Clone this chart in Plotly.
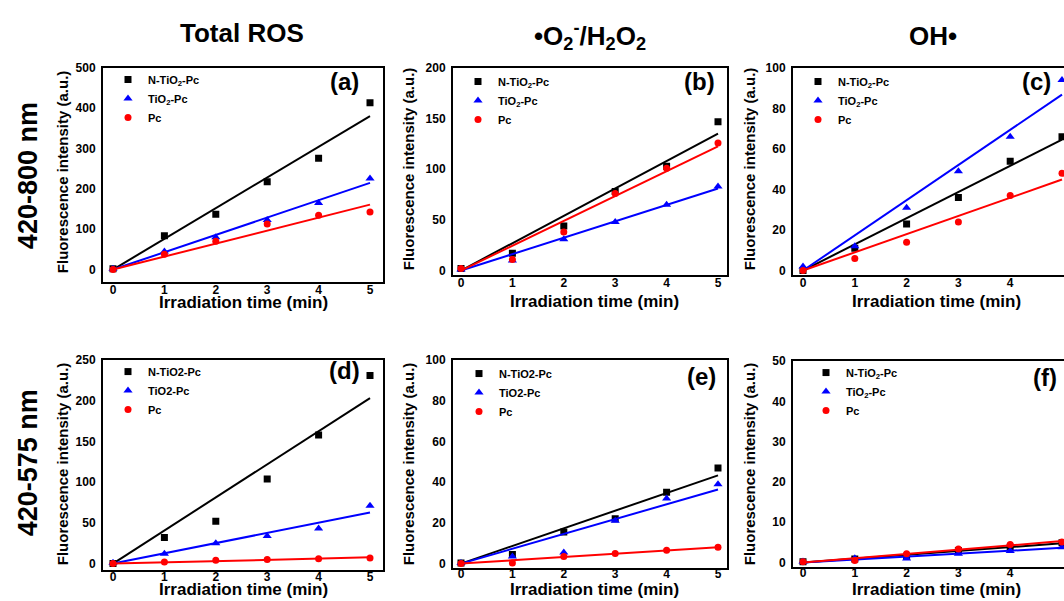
import numpy as np
import plotly.graph_objects as go

W, H = 1064, 601

# ---------------- data ----------------
time_min = [0, 1, 2, 3, 4, 5]
series_names = ["N-TiO2-Pc", "TiO2-Pc", "Pc"]

# Total ROS, 420-800 nm (a)
a_ntio2 = [2, 84, 137, 218, 276, 414]
a_tio2 = [2, 45, 80, 123, 165, 226]
a_pc = [0, 38, 70, 113, 135, 143]
# O2-/H2O2, 420-800 nm (b)
b_ntio2 = [2, 17, 44, 78, 103, 147]
b_tio2 = [1, 10, 31, 48, 65, 83]
b_pc = [2, 11, 38, 76, 101, 126]
# OH, 420-800 nm (c)
c_ntio2 = [0, 11, 23, 36, 54, 66]
c_tio2 = [2, 12, 31, 49, 66, 94]
c_pc = [0, 6, 14, 24, 37, 48]
# Total ROS, 420-575 nm (d)
d_ntio2 = [0, 32, 52, 104, 158, 231]
d_tio2 = [1, 12, 25, 34, 43, 71]
d_pc = [0, 2, 4, 5, 6, 7]
# O2-/H2O2, 420-575 nm (e)
e_ntio2 = [0.3, 4.5, 15.5, 22, 35, 47]
e_tio2 = [0.3, 3.5, 5.5, 21, 32, 39]
e_pc = [0, 0.3, 3.5, 5, 6.5, 8]
# OH, 420-575 nm (f)
f_ntio2 = [0.2, 0.9, 1.6, 3.0, 3.8, 4.9]
f_tio2 = [0.3, 1.1, 1.0, 2.2, 2.9, 3.8]
f_pc = [0.2, 0.5, 2.2, 3.4, 4.5, 5.1]

y_tick_max = [500, 200, 100, 250, 100, 50]
y_tick_step = [100, 50, 20, 50, 20, 10]
panel_letters = ["(a)", "(b)", "(c)", "(d)", "(e)", "(f)"]
column_titles = ["Total ROS", "•O<sub>2</sub><sup>-</sup>/H<sub>2</sub>O<sub>2</sub>", "OH•"]
row_titles = ["420-800 nm", "420-575 nm"]

panel_data = [
    (a_ntio2, a_tio2, a_pc),
    (b_ntio2, b_tio2, b_pc),
    (c_ntio2, c_tio2, c_pc),
    (d_ntio2, d_tio2, d_pc),
    (e_ntio2, e_tio2, e_pc),
    (f_ntio2, f_tio2, f_pc),
]

# ---------------- styling / geometry (pixels) ----------------
colors = ["#000000", "#0000ff", "#ff0000"]
symbols = ["square", "triangle-up", "circle"]
msizes = [7, 8, 7]
sub_legend = [True, True, True, False, False, True]

# (left, right, top, bottom, px of x=0, px of x=5, px of y=0, px of y=max)
geom = [
    (103, 383, 62, 280, 113, 370, 267, 62),
    (453, 727, 62, 273, 461, 718, 268, 62),
    (793, 1064, 62, 273, 803, 1062, 268, 62),
    (103, 383, 359, 573, 113, 370, 566, 359),
    (453, 727, 359, 570, 461, 718, 566, 359),
    (793, 1064, 360, 569, 803, 1062, 565, 360),
]
xtick_standoff = [-5, -5, -5, -6, -6, -6]
letter_pos = [(344, 76), (699, 76), (1036, 76), (344, 370), (701, 376), (1045, 377)]
legend_pos = [(108, 59), (458, 61), (798, 61), (108, 356), (459, 358), (806, 357)]
ytitle_pos = [(62, 168), (408, 165), (749, 165), (62, 465), (408, 465), (749, 465)]
xtitle_pos = [(243, 300), (594, 299), (936, 299), (243, 592), (594, 592), (936, 592)]

FONT = "Liberation Sans, Arial, Helvetica, sans-serif"
NARROW = "Liberation Sans Narrow, Arial Narrow, Liberation Sans, Arial, sans-serif"

fig = go.Figure()
annotations = []
layout_axes = {}

for i, series in enumerate(panel_data):
    L, R, T, B, px0, px5, py0, pymax = geom[i]
    ux = (px5 - px0) / 5.0
    uy = (py0 - pymax) / y_tick_max[i]
    xr = [(L - px0) / ux, (R - px0) / ux]
    yr = [-(B - py0) / uy, (py0 - T) / uy]
    xa = "xaxis" if i == 0 else f"xaxis{i+1}"
    ya = "yaxis" if i == 0 else f"yaxis{i+1}"
    xref = "x" if i == 0 else f"x{i+1}"
    yref = "y" if i == 0 else f"y{i+1}"
    lg = "legend" if i == 0 else f"legend{i+1}"
    right_cut = (i % 3 == 2)

    layout_axes[xa] = dict(
        domain=[L / W, R / W], range=xr, anchor=yref,
        showline=True, mirror=True, linecolor="black", linewidth=2,
        showgrid=False, zeroline=False, ticks="",
        tickvals=time_min, ticktext=[str(t) for t in time_min],
        tickfont=dict(family=FONT, size=12, color="black", weight="bold"),
        ticklabelstandoff=xtick_standoff[i],
    )
    layout_axes[ya] = dict(
        domain=[1 - B / H, 1 - T / H], range=yr, anchor=xref,
        showline=True, mirror=(not right_cut), linecolor="black", linewidth=2,
        showgrid=False, zeroline=False, ticks="",
        tickvals=list(range(0, y_tick_max[i] + 1, y_tick_step[i])),
        tickfont=dict(family=FONT, size=12, color="black", weight="bold"),
        ticklabelstandoff=3,
    )

    x = np.array(time_min, dtype=float)
    for k, yv in enumerate(series):
        yv = np.array(yv, dtype=float)
        name = series_names[k]
        if sub_legend[i]:
            name = name.replace("O2", "O<sub>2</sub>")
        slope = float((x * yv).sum() / (x * x).sum())
        fig.add_trace(go.Scatter(
            x=[0, 5], y=[0, 5 * slope], mode="lines",
            line=dict(color=colors[k], width=2),
            xaxis=xref, yaxis=yref, showlegend=False, hoverinfo="skip",
        ))
        fig.add_trace(go.Scatter(
            x=time_min, y=list(yv), mode="markers", name=name,
            marker=dict(color=colors[k], symbol=symbols[k], size=msizes[k]),
            xaxis=xref, yaxis=yref, legend=lg, showlegend=True,
        ))

    lx, ly = legend_pos[i]
    layout_axes[lg] = dict(
        x=lx / W, y=1 - ly / H, xanchor="left", yanchor="top",
        bgcolor="rgba(0,0,0,0)", borderwidth=0,
        font=dict(family=FONT, size=11, color="black", weight="bold"),
        itemwidth=30, tracegroupgap=0,
    )

    cx, cy = letter_pos[i]
    annotations.append(dict(
        text=panel_letters[i], x=cx / W, y=1 - cy / H, xref="paper", yref="paper",
        showarrow=False, xanchor="center", yanchor="middle",
        font=dict(family=FONT, size=24, color="black", weight="bold"),
    ))
    tx, ty = ytitle_pos[i]
    annotations.append(dict(
        text="Fluorescence intensity (a.u.)", x=tx / W, y=1 - ty / H,
        xref="paper", yref="paper", showarrow=False, textangle=-90,
        xanchor="center", yanchor="middle",
        font=dict(family=FONT, size=15, color="black", weight="bold"),
    ))
    tx, ty = xtitle_pos[i]
    annotations.append(dict(
        text="Irradiation time (min)", x=tx / W, y=1 - ty / H,
        xref="paper", yref="paper", showarrow=False,
        xanchor="center", yanchor="middle",
        font=dict(family=FONT, size=17, color="black", weight="bold"),
    ))

col_title_pos = [(242, 26), (590, 29), (933, 29)]
for j, t in enumerate(column_titles):
    cx, cy = col_title_pos[j]
    annotations.append(dict(
        text=t, x=cx / W, y=1 - cy / H, xref="paper", yref="paper",
        showarrow=False, xanchor="center", yanchor="middle",
        font=dict(family=NARROW, size=26, color="black", weight="bold"),
    ))

row_title_pos = [(28, 172), (28, 464)]
for j, t in enumerate(row_titles):
    cx, cy = row_title_pos[j]
    annotations.append(dict(
        text=t, x=cx / W, y=1 - cy / H, xref="paper", yref="paper",
        showarrow=False, textangle=-90, xanchor="center", yanchor="middle",
        font=dict(family=FONT, size=27, color="black", weight="bold"),
    ))

fig.update_layout(
    width=W, height=H, margin=dict(l=0, r=0, t=0, b=0),
    paper_bgcolor="white", plot_bgcolor="white",
    annotations=annotations, **layout_axes,
)

fig.write_html(
    "out.html",
    config={"displayModeBar": False},
    post_script="document.body.style.margin='0';document.body.style.overflow='hidden';",
)
